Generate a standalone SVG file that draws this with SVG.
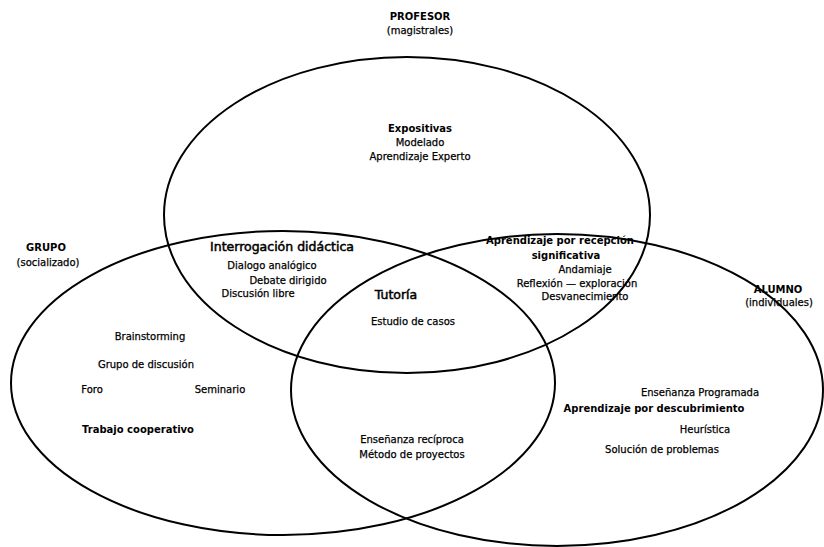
<svg xmlns="http://www.w3.org/2000/svg" width="824" height="547" viewBox="0 0 824 547">
<style>
.e{fill:none;stroke:#000;stroke-width:2}
text{font-family:"DejaVu Sans","Liberation Sans",sans-serif;font-size:10px;fill:#000;text-anchor:middle;stroke:#000;stroke-width:0.25}
.b{font-weight:bold;stroke-width:0}
.l{font-size:12.5px;stroke-width:0.5}
</style>
<rect width="824" height="547" fill="#fff"/>
<g id="connectors"></g>
<g id="profesor">
<ellipse class="e" cx="407" cy="215" rx="243" ry="158"/>
<text class="b" x="420" y="20">PROFESOR</text>
<text x="420" y="34">(magistrales)</text>
<text class="b" x="420" y="132">Expositivas</text>
<text x="420" y="146">Modelado</text>
<text x="420" y="160">Aprendizaje Experto</text>
</g>
<g id="grupo">
<ellipse class="e" cx="283" cy="383" rx="272" ry="152"/>
<text class="b" x="46" y="251">GRUPO</text>
<text x="48" y="266">(socializado)</text>
<text x="150" y="340">Brainstorming</text>
<text x="146" y="368">Grupo de discusión</text>
<text x="92" y="393">Foro</text>
<text x="220" y="393">Seminario</text>
<text class="b" x="138" y="433">Trabajo cooperativo</text>
</g>
<g id="alumno">
<ellipse class="e" cx="557" cy="390" rx="266" ry="156"/>
<text class="b" x="778" y="293">ALUMNO</text>
<text x="779" y="306">(individuales)</text>
<text x="700" y="396">Enseñanza Programada</text>
<text class="b" x="654" y="412">Aprendizaje por descubrimiento</text>
<text x="705" y="433">Heurística</text>
<text x="662" y="453">Solución de problemas</text>
</g>
<g id="profesor-grupo">
<text class="l" x="282" y="251">Interrogación didáctica</text>
<text x="272" y="269">Dialogo analógico</text>
<text x="288" y="284">Debate dirigido</text>
<text x="258" y="297">Discusión libre</text>
</g>
<g id="profesor-alumno">
<text class="b" x="560" y="244">Aprendizaje por recepción</text>
<text class="b" x="566" y="259">significativa</text>
<text x="585" y="273">Andamiaje</text>
<text x="577" y="287">Reflexión    — exploración</text>
<text x="585" y="300">Desvanecimiento</text>
</g>
<g id="centro">
<text class="l" x="396" y="299">Tutoría</text>
<text x="413" y="325">Estudio de casos</text>
</g>
<g id="grupo-alumno">
<text x="412" y="443">Enseñanza recíproca</text>
<text x="412" y="458">Método de proyectos</text>
</g>
</svg>
